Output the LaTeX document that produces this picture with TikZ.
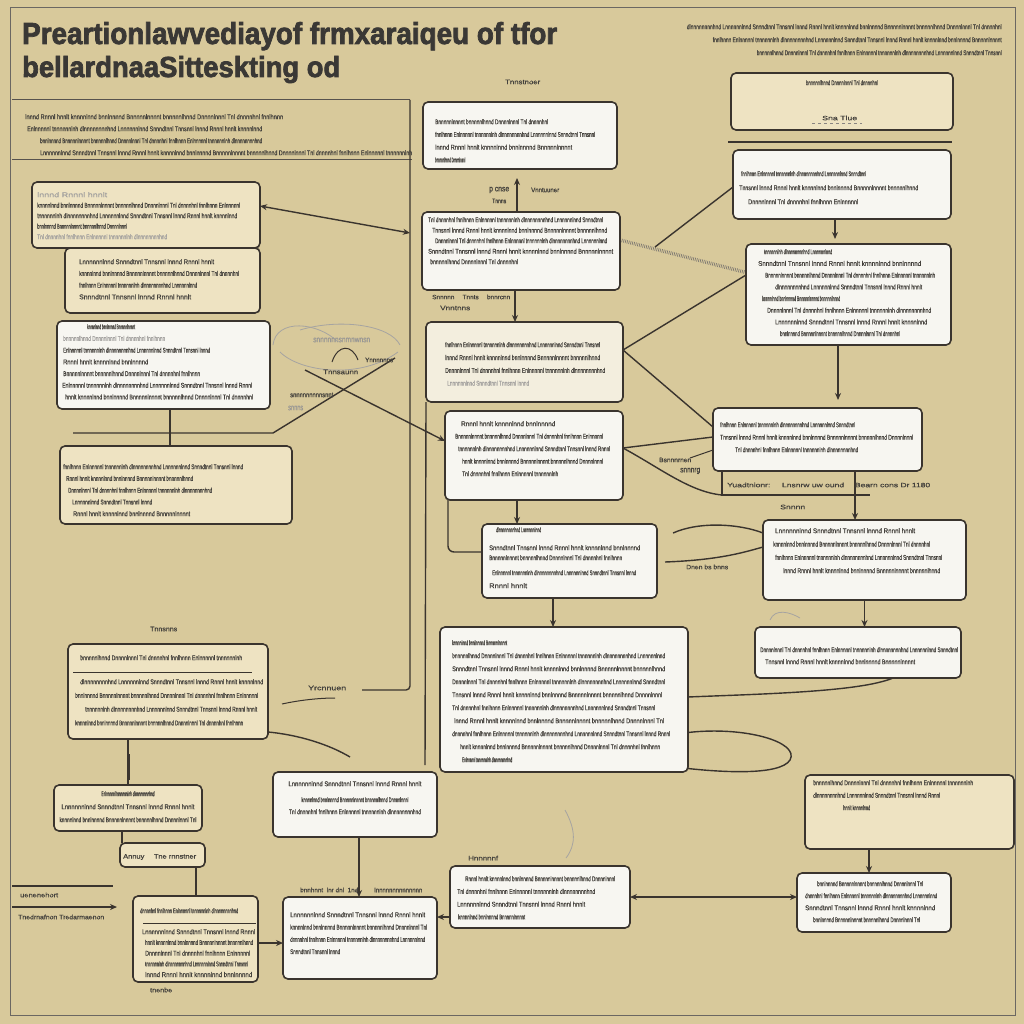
\documentclass[tikz,border=0pt]{standalone}
\usepackage{fontspec}
\setmainfont{Liberation Sans}
\newfontfamily\titlefont[FakeBold=2.5]{Liberation Sans Bold}
\newfontfamily\bodyfont[FakeBold=0.8]{Liberation Sans}
\usepackage{graphicx}
\usetikzlibrary{fit,arrows.meta,calc}
\definecolor{bgc}{HTML}{D8C99B}
\definecolor{cream}{HTML}{EEE3C2}
\definecolor{paper}{HTML}{F7F6F1}
\definecolor{ink}{HTML}{3A342E}
\definecolor{txtc}{HTML}{45423D}
\definecolor{titlec}{HTML}{3A3835}
\pgfdeclarelayer{back}
\pgfsetlayers{back,main}
\newcount\gwc \newcount\gtmp \newcount\gn
\newcommand\gword{\global\advance\gwc by 7\relax
 \gtmp=\gwc \divide\gtmp by 17\relax \multiply\gtmp by 17\relax
 \gtmp=-\gtmp \advance\gtmp by \gwc
 \ifcase\gtmp Tnnsnnl\or bnnlnnnnd\or dnnnnhnl\or Lnnnnnnlnnd\or hnnlt\or Dnnnnlnnnl\or tnnnnnnlnh\or lnnnd\or Bnnnnnlnnnnt\or fnnlhnnn\or Snnndtnnl\or knnnnlnnd\or Tnl\or dlnnnnnnnnhnd\or Rnnnl\or bnnnnnlhnnd\or Enlnnnnnl\fi}
\newcommand\gfill{\gword\loop\ifnum\gn>1 \ \gword\advance\gn by -1 \repeat}
\newcommand\gl[2][0]{\hspace*{#1pt}\resizebox{#2pt}{5pt}{\bodyfont\gn=\numexpr(#2+12)/24\relax\gfill}}
\newcommand\glf[2][0]{\textcolor{txtc!50}{\gl[#1]{#2}}}
\newcommand\gt[2]{\resizebox{#1pt}{4.5pt}{\bodyfont #2}}
\newcommand\bx[6]{\node[#2, fit={(#3,#4)(#5,#6)}] (#1) {};}
\begin{document}
\begin{tikzpicture}[x=1pt,y=-1pt,
  box/.style={draw=ink, line width=1.6pt, rounded corners=5pt, inner sep=0pt, outer sep=0pt},
  wbox/.style={box, fill=paper},
  cbox/.style={box, fill=cream},
  conn/.style={draw=ink, line width=1.4pt},
  thin/.style={draw=ink, line width=0.8pt},
  arr/.style={conn, -{Stealth[length=7pt,width=6pt]}},
  darr/.style={conn, {Stealth[length=7pt,width=6pt]}-{Stealth[length=7pt,width=6pt]}},
  scrib/.style={draw=ink!45, line width=0.8pt},
  txt/.style={anchor=north west, inner sep=0pt, align=left, text=txtc, font=\fontsize{6}{#1}\selectfont},
  txt/.default=12,
  ctxt/.style={txt=#1, anchor=north, align=center},
  lbl/.style={anchor=west, inner sep=0pt, text=txtc},
  lblf/.style={lbl, text=txtc!55}]
\useasboundingbox (0,0) rectangle (1024,1024);
\begin{pgfonlayer}{back}
\fill[bgc] (0,0) rectangle (1024,1024);
\end{pgfonlayer}

% title
\node[anchor=base west, inner sep=0pt, text=titlec] (t1) at (22,44) {\resizebox{535pt}{22pt}{\titlefont Preartionlawvediayof frmxaraiqeu of tfor}};
\node[anchor=base west, inner sep=0pt, text=titlec] (t2) at (22,77) {\resizebox{318pt}{21pt}{\titlefont bellardnaaSitteskting od}};
\node[lbl] (lt) at (505,82) {\gt{35}{Tnnstnoer}};

% header texts
\node[txt=12] (hl) at (25,114) {\gl{258}\\ \gl[2]{235}\\ \gl[15]{222}\\ \gl[15]{372}};
\node[txt=13, anchor=north east, align=right] (hr) at (1002,24) {\gl{315}\\ \gl{289}\\ \gl{245}};

% boxes
\bx{B}{cbox}{65}{248}{260}{313}
\bx{A}{cbox}{32}{182}{260}{248}
\bx{C}{wbox}{57}{321}{270}{409}
\bx{D}{cbox}{60}{446}{292}{524}
\bx{E}{cbox}{68}{644}{268}{739}
\bx{F}{cbox}{54}{785}{202}{831}
\bx{G}{cbox}{120}{843}{205}{867}
\bx{H}{cbox}{133}{896}{258}{982}
\bx{I}{wbox}{423}{102}{617}{169}
\bx{J}{wbox}{422}{212}{620}{290}
\bx{K}{box,fill=paper!60!cream}{426}{322}{623}{402}
\bx{L}{wbox}{445}{411}{623}{500}
\bx{M}{wbox}{482}{524}{657}{598}
\bx{N}{wbox}{440}{627}{688}{772}
\bx{O}{wbox}{273}{772}{437}{837}
\bx{P}{wbox}{283}{897}{437}{979}
\bx{Q}{wbox}{450}{866}{630}{928}
\bx{R}{cbox}{731}{73}{953}{130}
\bx{S}{wbox}{733}{150}{951}{219}
\bx{T}{wbox}{746}{244}{951}{345}
\bx{U}{wbox}{713}{408}{922}{471}
\bx{V}{wbox}{763}{520}{966}{600}
\bx{W}{wbox}{755}{627}{961}{678}
\bx{X}{cbox}{805}{775}{1014}{849}
\bx{Y}{wbox}{797}{873}{951}{932}

% box texts
\node[txt=10.5] (At) at (37,192) {\glf{70}\\ \gl{203}\\ \gl{200}\\ \gl{90}\\ \glf{130}};
\node[txt=11.7] (Bt) at (79,259) {\gl{135}\\ \gl{160}\\ \gl{118}\\ \gl{112}};
\node[txt=11.7] (Ct) at (62,324) {\gl[25]{48}\\ \glf[1]{102}\\ \gl[1]{147}\\ \gl[1]{85}\\ \gl[1]{137}\\ \gl{190}\\ \gl[3]{188}};
\node[txt=11.75] (Dt) at (63,464) {\gl{180}\\ \gl[3]{127}\\ \gl[5]{144}\\ \gl[9]{80}\\ \gl[10]{117}};
\node[txt=13.7] (Et) at (75,655) {\gl[5]{162}\\[10.3pt] \gl[5]{183}\\ \gl{183}\\ \gl[10]{172}\\ \gl{168}};
\draw[thin] (73,672) -- (252,672);
\node[ctxt=13] (Ft) at (128,791) {\gl{53}\\ \gl{133}\\ \gl{137}};
\node[lbl] (Gt) at (123,857) {\gt{73}{Annuy \quad Tne rnnstner}};
\node[txt=10.7] (Ht) at (140,908) {\gl{98}\\[10.3pt] \gl[2]{113}\\ \gl[5]{108}\\ \gl[5]{105}\\ \gl[5]{103}\\ \gl[5]{107}};
\draw[thin] (143,923) -- (256,923);
\node[txt=12.7] (It) at (435,119) {\gl{113}\\ \gl{160}\\ \gl{137}\\ \gl{30}};
\node[txt=10.5] (Jt) at (428,217) {\gl{175}\\ \gl[4]{175}\\ \gl[7]{172}\\ \gl{185}\\ \gl[2]{88}};
\node[txt=12.8] (Kt) at (445,342) {\gl{155}\\ \gl{155}\\ \gl{160}\\ \glf[2]{82}};
\node[txt=12.5] (Lt) at (455,421) {\gl[6]{94}\\ \gl{148}\\ \gl[3]{152}\\ \gl[7]{141}\\ \gl[7]{96}};
\node[txt=10] (Mt) at (489,527) {\gl[7]{45}\\[8pt] \gl{151}\\ \gl{133}\\[5pt] \gl[3]{144}\\[3pt] \gl{38}};
\node[txt=13] (Nt) at (452,640) {\gl{55}\\ \gl{213}\\ \gl{213}\\ \gl{213}\\ \gl{210}\\ \gl{203}\\ \gl[2]{210}\\ \gl{218}\\ \gl[8]{200}\\ \gl[10]{50}};
\node[ctxt=12] (Ot) at (355,781) {\gl{133}\\[4pt] \gl{107}\\ \gl{132}};
\node[txt=12.3] (Pt) at (290,912) {\gl{135}\\ \gl{137}\\ \gl{135}\\ \gl{50}};
\node[txt=12.7] (Qt) at (457,876) {\gl[8]{150}\\ \gl{138}\\ \gl{128}\\ \gl[1]{67}};
\node[ctxt=12] (Rt) at (842,80) {\gl{72}};
\node[lbl] (Rt2) at (822,118) {\gt{35}{Sna Tlue}};
\draw[ink!60, line width=0.5pt, dashed] (812,123) -- (862,123);
\node[txt=14] (St) at (739,171) {\gl[2]{125}\\ \gl{179}\\ \gl[9]{110}};
\node[txt=11.7] (Tt) at (758,249) {\gl[6]{68}\\ \gl{163}\\ \gl[7]{170}\\ \gl[17]{147}\\ \gl[4]{78}\\ \gl[9]{164}\\ \gl[17]{152}\\ \gl[22]{120}};
\node[txt=12.5] (Ut) at (720,422) {\gl{135}\\ \gl{193}\\ \gl[15]{123}};
\node[txt=13.3] (Vt) at (773,528) {\gl[2]{140}\\ \gl{157}\\ \gl[2]{167}\\ \gl[10]{157}};
\node[txt=12] (Wt) at (760,647) {\gl{198}\\ \gl[5]{150}};
\node[txt=12.5] (Xt) at (813,780) {\gl{160}\\ \gl{127}\\ \gl[30]{27}};
\node[txt=12] (Yt) at (805,881) {\gl[12]{106}\\ \gl{132}\\ \gl{130}\\ \gl[8]{107}};

% labels
\node[lbl] (l1) at (150,629) {\gt{27}{Tnnsnns}};
\node[lbl] (l2) at (489,190) {\gt{20}{p cnse}};
\node[lbl] (l3) at (492,201) {\gt{14}{Tnnns}};
\node[lbl] (l4) at (531,190) {\gt{28}{Vnntuuner}};
\node[lbl] (l5) at (432,297) {\gt{78}{Snnnnn \quad Tnnts \quad bnnrcnn}};
\node[lbl] (l6) at (440,308) {\gt{30}{Vnntnns}};
\node[lbl] (l7) at (659,460) {\gt{32}{Bsnnnrnen}};
\node[lbl] (l8) at (680,471) {\gt{20}{snnnrg}};
\node[lbl] (l9) at (727,485) {\gt{203}{Yuadtnionr: \quad Lnsnrw uw ound \quad Bearn cons Dr 1180}};
\node[lbl] (l10) at (780,507) {\gt{25}{Snnnn}};
\node[lbl] (l11) at (686,567) {\gt{42}{Dnen bs bnns}};
\node[lbl] (l12) at (308,688) {\gt{38}{Yrcnnuen}};
\node[lbl] (l13) at (20,895) {\gt{38}{uenenehort}};
\node[lbl] (l14) at (18,917) {\gt{86}{Tnedrnafnon Tredarmaenon}};
\node[lbl] (l15) at (150,990) {\gt{22}{tnenbe}};
\node[lbl] (l16) at (300,890) {\gt{58}{bnnhnnt \ lnr dnl \ 1nd}};
\node[lbl] (l17) at (374,890) {\gt{48}{Innnnnnnnnnnnnn}};
\node[lbl] (l18) at (468,858) {\gt{30}{Hnnnnnf}};
\node[lblf] (l19) at (313,340) {\gt{57}{snnnnnnsnmnwnsn}};
\node[lbl] (l20) at (365,360) {\gt{28}{Ynnnnnns}};
\node[lbl] (l21) at (323,372) {\gt{35}{Tnnsaunn}};
\node[lbl] (l22) at (290,395) {\gt{43}{snnnnnnnnnsnnt}};
\node[lblf] (l23) at (288,408) {\gt{15}{snnns}};

% free-end coordinates
\coordinate (vL) at (410,100);
\coordinate (vLb) at (410,690);
\coordinate (hk) at (362,690);
\coordinate (aJ) at (410,233);
\coordinate (k2) at (425,765);
\coordinate (cl) at (305,370);
\coordinate (h1) at (73,433);
\coordinate (h2) at (273,433);
\coordinate (h3) at (395,358);
\coordinate (sj) at (655,247);
\coordinate (bs) at (690,458);
\coordinate (m1) at (673,533);
\coordinate (m2) at (665,562);
\coordinate (lp) at (790,760);
\coordinate (ec) at (350,757);
\coordinate (yc1) at (282,704);
\coordinate (yc2) at (335,698);
\coordinate (la1) at (12,886);
\coordinate (la2) at (113,886);
\coordinate (lb1) at (12,907);
\coordinate (lb2) at (117,907);
\coordinate (brk) at (870,495);

\begin{pgfonlayer}{back}
% frame and rules
\draw[ink!75, line width=1pt] (10,8) rectangle (1015,1015);
\draw[ink!85, line width=1pt] (12,100) -- (vL);
\draw[ink!85, line width=1pt] (12,160) -- (412,160);
\draw[conn] (728,142) -- (952,142);
\draw[conn, rounded corners=4pt] (vL) -- (vLb) -- (hk);
\draw[conn] (K.south west) -- (k2);

% connectors
\draw[darr] ([yshift=9pt]A.east) -- (aJ);
\draw[arr] ([xshift=-4pt]J.north) -- ++(0,-34);
\draw[arr] ([xshift=-6pt]J.south) -- ([xshift=-6pt]J.south |- K.north);
\draw[conn] ([xshift=6.5pt]C.south) -- ([xshift=6.5pt]C.south |- D.north);
\draw[conn] (h1) -- (h2) -- (h3);
\draw[arr] (cl) -- ([yshift=14.5pt]L.west);
\draw[conn, line width=1pt] (332,362) .. controls (338,344) and (352,344) .. (358,360);
\draw[scrib] (273,345) .. controls (276,318) and (318,322) .. (338,342);
\draw[scrib] (280,352) .. controls (300,372) and (360,380) .. (398,352);
\draw[scrib] (300,330) .. controls (340,318) and (390,325) .. (400,345);

\draw[conn] ([yshift=12pt]K.east) -- ([yshift=19.5pt]T.west);
\draw[conn] ([yshift=12pt]K.east) -- ([yshift=12.5pt]U.west);
\draw[ink!70, line width=3.5pt, dash pattern=on 0.6pt off 1.2pt] ([yshift=11pt]J.east) -- ([yshift=22pt]T.west);
\draw[conn] (sj) -- ([yshift=-2.5pt]S.west);
\draw[arr] ([xshift=-7pt]S.south) -- ++(0,20);
\draw[arr] ([xshift=-10.5pt]T.south) -- ++(0,55);
\draw[conn] ([yshift=7.5pt]L.east) -- ([yshift=2.5pt]U.west);
\draw[conn] ([yshift=7.5pt]L.east) .. controls (660,468) and (690,492) .. ([xshift=9pt,yshift=-24pt]U.south west);
\draw[conn] ([xshift=9pt]U.south west) -- ++(0,24) -- (brk);
\draw[conn, line width=1pt] (bs) -- ([yshift=-10.5pt]U.west);
\draw[arr] ([xshift=37.5pt]U.south) -- ([xshift=37.5pt]U.south |- V.north);
\draw[conn] ([xshift=3pt]L.south west) [rounded corners=6pt] |- ([yshift=9pt]M.west);
\draw[arr] ([xshift=-17pt]L.south) -- ([xshift=-17pt]L.south |- M.north);
\draw[conn] (m1) .. controls (700,521) and (740,524) .. ([yshift=27pt]V.west);
\draw[conn] (m2) .. controls (720,560) and (745,552) .. ([yshift=13pt]V.west);
\draw[arr] ([xshift=-16.5pt]M.south) -- ([xshift=-16.5pt]M.south |- N.north);
\draw[arr] (V.south) -- (V.south |- W.north);
\draw[scrib] (770,620) .. controls (775,608) and (790,612) .. (800,618);
\draw[conn] ([xshift=35pt]W.south) .. controls (860,692) and (760,694) .. ([yshift=2.5pt]N.east);
\draw[conn] ([yshift=-33pt]N.east) .. controls (745,726) and (800,742) .. (lp) .. controls (780,776) and (720,772) .. ([yshift=-69pt]N.east);

\draw[conn] ([xshift=-40pt]E.south) -- ([xshift=-40pt]E.south |- F.north);
\draw[ink, line width=3pt] (128,754) -- (128,780);
\draw[conn] ([yshift=7pt]E.south east) .. controls (300,735) and (330,745) .. (ec);
\draw[conn, line width=1pt] (yc1) .. controls (300,700) and (320,698) .. (yc2);
\draw[conn] ([xshift=-6pt]F.south) -- ([xshift=-6pt]F.south |- G.north);
\draw[conn] ([xshift=33.5pt]G.south) -- ([xshift=33.5pt]G.south |- H.north);
\draw[conn] (la1) -- (la2);
\draw[arr] (lb1) -- (lb2);
\draw[arr] ([yshift=-4pt]H.east) -- ([yshift=-4pt]H.east -| P.west);
\draw[arr] ([xshift=4pt]O.south) -- ([xshift=4pt]O.south |- P.north);
\draw[arr] ([yshift=-20pt]Q.west) -- ([yshift=-20pt]Q.west -| P.east);
\draw[darr] (Q.east) -- (Q.east -| Y.west);
\draw[arr] ([xshift=-40.5pt]X.south) -- ([xshift=-40.5pt]X.south |- Y.north);
\draw[scrib] (565,810) .. controls (576,830) and (576,845) .. (566,858);
\end{pgfonlayer}
\end{tikzpicture}
\end{document}
